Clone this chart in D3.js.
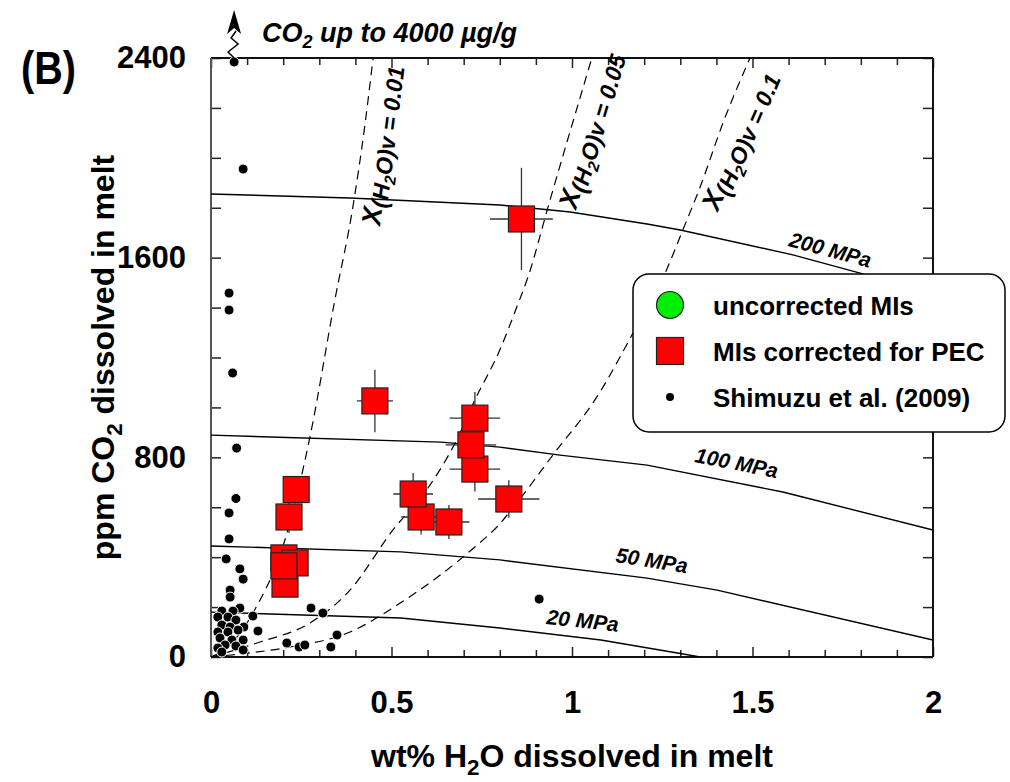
<!DOCTYPE html>
<html>
<head>
<meta charset="utf-8">
<script src="https://cdn.jsdelivr.net/npm/d3@7"></script>
<style>
  body { margin: 0; background: #fff; }
  svg { display: block; }
  text { font-family: "Liberation Sans", Arial, Helvetica, sans-serif; font-weight: bold; fill: #000; }
</style>
</head>
<body>
<svg id="chart" width="1010" height="782"></svg>
<script>
// ---------- axis ticks ----------
const xTickLabels = [0, 0.5, 1, 1.5, 2];
const yTickLabels = [0, 800, 1600, 2400];

// ---------- isobars (wt% H2O, ppm CO2) ----------
const isobarNames = ["20 MPa", "50 MPa", "100 MPa", "200 MPa"];
const isobar20 = [[0, 180], [0.526, 156], [0.80, 116], [1.08, 68], [1.30, 14], [1.355, 0]];
const isobar50 = [[0, 445], [0.526, 421], [0.80, 389], [1.208, 316], [1.402, 268], [2.0, 68]];
const isobar100 = [[0, 889], [0.637, 861], [0.80, 841], [0.967, 809], [1.208, 769], [1.584, 661], [2.0, 509]];
const isobar200 = [[0, 1855], [0.385, 1839], [0.80, 1811], [0.995, 1783], [1.208, 1735], [1.30, 1711], [1.612, 1611], [1.798, 1538], [2.0, 1450]];

// ---------- vapour isopleths X(H2O)v ----------
const isoplethNames = ["0.01", "0.05", "0.1"];
const isopleth001 = [[0, 0], [0.05, 45], [0.116, 176], [0.213, 509], [0.274, 881], [0.343, 1430], [0.393, 1803], [0.427, 2139], [0.449, 2400]];
const isopleth005 = [[0, 0], [0.136, 60], [0.274, 136], [0.385, 268], [0.504, 509], [0.601, 677], [0.676, 857], [0.731, 1030], [0.80, 1230], [0.847, 1402], [0.878, 1522], [0.935, 1810], [1.055, 2400]];
const isopleth01 = [[0, 0], [0.08, 12], [0.219, 40], [0.385, 100], [0.524, 216], [0.731, 441], [0.792, 521], [0.847, 617], [0.95, 815], [1.069, 1042], [1.169, 1298], [1.263, 1555], [1.307, 1711], [1.355, 1883], [1.418, 2139], [1.493, 2400]];

// ---------- melt inclusions corrected for PEC ----------
const pecH2O    = [0.860, 0.454, 0.731, 0.731, 0.720, 0.825, 0.582, 0.560, 0.659, 0.236, 0.216, 0.205, 0.202, 0.233, 0.202];
const pecCO2    = [1755, 1026, 957, 753, 850, 633, 561, 653, 541, 671, 561, 292, 397, 377, 365];
const pecH2OErr = [0.087, 0.05, 0.07, 0.07, 0.07, 0.085, 0.055, 0.055, 0.057, 0.02, 0.02, 0.02, 0.02, 0.02, 0.02];
const pecCO2Err = [205, 125, 105, 90, 60, 75, 70, 84, 68, 30, 64, 30, 30, 30, 30];

// ---------- Shimizu et al. (2009) ----------
const shimizuH2O = [0.064, 0.089, 0.05, 0.05, 0.06, 0.071, 0.069, 0.05, 0.05, 0.042, 0.08, 0.089, 0.053, 0.053, 0.08,
  0.277, 0.31, 0.116, 0.13, 0.21, 0.244, 0.26, 0.332, 0.349, 0.909,
  0.03, 0.061, 0.019, 0.047, 0.069, 0.03, 0.053, 0.091, 0.019, 0.047, 0.075, 0.025, 0.058, 0.089, 0.039, 0.069, 0.019, 0.089, 0.03];
const shimizuCO2 = [2384, 1955, 1458, 1390, 1138, 837, 635, 577, 473, 393, 353, 312, 268, 240, 196,
  196, 176, 164, 104, 56, 40, 48, 40, 88, 232,
  184, 184, 160, 160, 148, 128, 120, 120, 100, 100, 108, 76, 68, 68, 48, 44, 36, 28, 20];

const legendLabels = ["uncorrected MIs", "MIs corrected for PEC", "Shimuzu et al. (2009)"];

// ---------- layout ----------
const svg = d3.select("#chart");
const P = { left: 211, right: 933, top: 58, bottom: 657 };
const x = d3.scaleLinear().domain([0, 2]).range([P.left, P.right]);
const y = d3.scaleLinear().domain([0, 2400]).range([P.bottom, P.top]);

svg.append("defs").append("clipPath").attr("id", "plotClip")
  .append("rect").attr("x", P.left).attr("y", P.top)
  .attr("width", P.right - P.left).attr("height", P.bottom - P.top);

// text with sub-scripted parts
function rich(sel, parts, fs) {
  let shifted = 0;
  parts.forEach(p => {
    const t = sel.append("tspan").text(p.t);
    const sh = p.sub ? (p.shift != null ? p.shift : fs * 0.24) : (p.shift || 0);
    t.attr("font-size", (p.size || (p.sub ? fs * 0.7 : fs)) + "px");
    if (sh !== shifted) t.attr("dy", sh - shifted);
    shifted = sh;
  });
  return sel;
}

// ---------- axes ----------
const minorX = d3.range(0, 21).map(i => i / 10).filter(v => Math.round(v * 10) % 5 !== 0);
const majorY = d3.range(0, 13).map(i => i * 200);

function styleAxis(g) {
  g.select(".domain").remove();
  g.selectAll("line").attr("stroke", "#222").attr("stroke-width", 1.5);
  g.selectAll("text").attr("font-size", "31px").attr("font-family", null).attr("fill", "#000");
}

svg.append("g").attr("transform", `translate(0,${P.bottom})`)
  .call(d3.axisBottom(x).tickValues(minorX).tickSize(-7).tickFormat(""))
  .call(styleAxis);
svg.append("g").attr("transform", `translate(0,${P.bottom})`)
  .call(d3.axisBottom(x).tickValues(xTickLabels).tickSize(-10).tickPadding(34).tickFormat(d3.format("")))
  .call(styleAxis);
svg.append("g").attr("transform", `translate(0,${P.top})`)
  .call(d3.axisTop(x).tickValues(minorX).tickSize(-7).tickFormat(""))
  .call(styleAxis);
svg.append("g").attr("transform", `translate(0,${P.top})`)
  .call(d3.axisTop(x).tickValues(xTickLabels).tickSize(-10).tickFormat(""))
  .call(styleAxis);
svg.append("g").attr("transform", `translate(${P.left},0)`)
  .call(d3.axisLeft(y).tickValues(majorY).tickSize(-10).tickPadding(25)
    .tickFormat(d => yTickLabels.includes(d) ? d : ""))
  .call(styleAxis);
svg.append("g").attr("transform", `translate(${P.right},0)`)
  .call(d3.axisRight(y).tickValues(majorY).tickSize(-10).tickFormat(""))
  .call(styleAxis);

// frame
svg.append("line").attr("x1", P.left).attr("x2", P.right).attr("y1", P.top).attr("y2", P.top).attr("stroke", "#111").attr("stroke-width", 2);
svg.append("line").attr("x1", P.left).attr("x2", P.right).attr("y1", P.bottom).attr("y2", P.bottom).attr("stroke", "#111").attr("stroke-width", 2);
svg.append("line").attr("x1", P.right).attr("x2", P.right).attr("y1", P.top).attr("y2", P.bottom).attr("stroke", "#111").attr("stroke-width", 2);
svg.append("line").attr("x1", P.left).attr("x2", P.left).attr("y1", P.top).attr("y2", P.bottom).attr("stroke", "#555").attr("stroke-width", 2);

// axis titles
rich(svg.append("text").attr("x", (P.left + P.right) / 2).attr("y", 767).attr("text-anchor", "middle"),
  [{ t: "wt% H" }, { t: "2", sub: true, shift: 8 }, { t: "O dissolved in melt" }], 32).attr("font-size", "32px");
rich(svg.append("text").attr("transform", `translate(114,${(P.top + P.bottom) / 2}) rotate(-90)`).attr("text-anchor", "middle"),
  [{ t: "ppm CO" }, { t: "2", sub: true, shift: 8 }, { t: " dissolved in melt" }], 32).attr("font-size", "32px");

// panel tag
svg.append("text").attr("transform", "translate(21,84) scale(0.86,1)").attr("font-size", "46px").text("(B)");

// ---------- curves ----------
const curves = svg.append("g").attr("clip-path", "url(#plotClip)");
const barLine = d3.line().x(d => x(d[0])).y(d => y(d[1]));
const plethLine = d3.line().x(d => x(d[0])).y(d => y(d[1])).curve(d3.curveMonotoneX);

[isobar20, isobar50, isobar100, isobar200].forEach(d => {
  curves.append("path").attr("d", barLine(d)).attr("fill", "none").attr("stroke", "#000").attr("stroke-width", 1.4);
});
[isopleth001, isopleth005, isopleth01].forEach(d => {
  curves.append("path").attr("d", plethLine(d)).attr("fill", "none").attr("stroke", "#000")
    .attr("stroke-width", 1.2).attr("stroke-dasharray", "9,6");
});

// isobar labels: [x, y, angle]
const isobarLabelPos = [[0.928, 132, 6], [1.119, 381, 9], [1.338, 781, 11], [1.598, 1647, 15]];
isobarNames.forEach((name, i) => {
  const [lx, ly, a] = isobarLabelPos[i];
  svg.append("text").attr("transform", `translate(${x(lx)},${y(ly)}) rotate(${a})`)
    .attr("font-size", "21px").attr("font-style", "italic").text(name);
});

// isopleth labels
const isoplethLabelPos = [[0.468, 1727, -83], [1.011, 1791, -73.5], [1.404, 1783, -66.5]];
isoplethNames.forEach((name, i) => {
  const [lx, ly, a] = isoplethLabelPos[i];
  const t = svg.append("text").attr("transform", `translate(${x(lx)},${y(ly)}) rotate(${a})`).attr("font-style", "italic");
  rich(t, [{ t: "X", size: 27 }, { t: "(H", size: 23, shift: 5 }, { t: "2", size: 16, shift: 10 }, { t: "O)v = " + name, size: 23, shift: 5 }], 27);
});

// ---------- Shimizu et al. points ----------
const dots = svg.append("g");
shimizuH2O.forEach((h, i) => {
  dots.append("circle").attr("cx", x(h)).attr("cy", y(shimizuCO2[i])).attr("r", 5)
    .attr("fill", "#000").attr("stroke", "#fff").attr("stroke-width", 1);
});

// ---------- PEC-corrected inclusions ----------
const bars = svg.append("g").attr("stroke", "#333").attr("stroke-width", 1.3);
pecH2O.forEach((h, i) => {
  const c = pecCO2[i];
  bars.append("line").attr("x1", x(h - pecH2OErr[i])).attr("x2", x(h + pecH2OErr[i])).attr("y1", y(c)).attr("y2", y(c));
  bars.append("line").attr("x1", x(h)).attr("x2", x(h)).attr("y1", y(c - pecCO2Err[i])).attr("y2", y(c + pecCO2Err[i]));
});
const sq = 26;
const squares = svg.append("g");
pecH2O.forEach((h, i) => {
  squares.append("rect").attr("x", x(h) - sq / 2).attr("y", y(pecCO2[i]) - sq / 2)
    .attr("width", sq).attr("height", sq).attr("fill", "#ff0000").attr("stroke", "#222").attr("stroke-width", 1.2);
});

// ---------- off-scale annotation ----------
const ax = x(shimizuH2O[0]);
svg.append("path")
  .attr("d", `M${ax},${P.top} L${ax - 6},${P.top - 6} L${ax + 4},${P.top - 14} L${ax - 3},${P.top - 20} L${ax + 2},${P.top - 27}`)
  .attr("fill", "none").attr("stroke", "#000").attr("stroke-width", 1.5);
svg.append("path")
  .attr("d", `M${ax},${P.top - 48} L${ax + 7},${P.top - 24} L${ax},${P.top - 30} L${ax - 7},${P.top - 24} Z`)
  .attr("fill", "#000");
rich(svg.append("text").attr("x", 262).attr("y", 42).attr("font-style", "italic"),
  [{ t: "CO" }, { t: "2", sub: true, shift: 6, size: 18 }, { t: " up to 4000 \u00b5g/g" }], 27).attr("font-size", "27px");

// ---------- legend ----------
const lg = svg.append("g");
lg.append("rect").attr("x", 633).attr("y", 274).attr("width", 372).attr("height", 158).attr("rx", 16)
  .attr("fill", "#fff").attr("stroke", "#000").attr("stroke-width", 1.5);
lg.append("circle").attr("cx", 670).attr("cy", 305).attr("r", 13.5).attr("fill", "#00ee00").attr("stroke", "#222").attr("stroke-width", 1.2);
lg.append("rect").attr("x", 670 - 13.5).attr("y", 351 - 13.5).attr("width", 27).attr("height", 27).attr("fill", "#ff0000").attr("stroke", "#222").attr("stroke-width", 1.2);
lg.append("circle").attr("cx", 670).attr("cy", 397).attr("r", 4).attr("fill", "#000");
const legendY = [315, 361, 407];
legendLabels.forEach((t, i) => {
  lg.append("text").attr("x", 713).attr("y", legendY[i]).attr("font-size", "26px").text(t);
});
</script>
</body>
</html>
